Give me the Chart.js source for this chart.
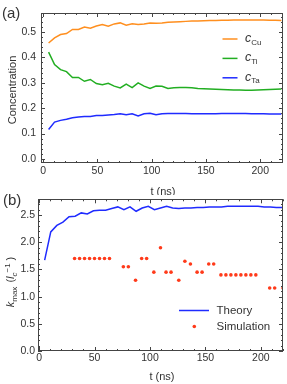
<!DOCTYPE html>
<html>
<head>
<meta charset="utf-8">
<script src="https://cdn.jsdelivr.net/npm/chart.js@4.4.0/dist/chart.umd.min.js"></script>
<style>
html, body { margin: 0; padding: 0; background: #fff; }
#wrap { position: relative; width: 287px; height: 384px; overflow: hidden; }
#top { position: absolute; left: 0; top: 0; }
#bot { position: absolute; left: 0; top: 190px; }
</style>
</head>
<body>
<div id="wrap">
  <canvas id="top" width="287" height="195"></canvas>
  <canvas id="bot" width="287" height="194"></canvas>
</div>
<script>
// time axis (ns) shared by the curves
const times = [5, 10.5, 16, 21.5, 27, 32.5, 38, 43.5, 49, 54.5, 60, 65.5, 71, 76.5, 82, 87.5, 93, 98.5, 104, 109.5,
  115, 120.5, 126, 131.5, 137, 142.5, 148, 153.5, 159, 164.5, 170, 175.5, 181, 186.5, 192, 197.5, 203, 208.5, 214, 219.5];

// panel (a): concentrations
const cCu = [0.457, 0.477, 0.490, 0.494, 0.510, 0.510, 0.520, 0.515, 0.524, 0.530, 0.523, 0.532, 0.536, 0.527, 0.533,
  0.530, 0.532, 0.536, 0.535, 0.536, 0.539, 0.540, 0.541, 0.542, 0.543, 0.543, 0.544, 0.545, 0.545, 0.546, 0.546,
  0.547, 0.547, 0.547, 0.547, 0.547, 0.547, 0.546, 0.546, 0.545];
const cTi = [0.421, 0.372, 0.352, 0.344, 0.321, 0.321, 0.306, 0.313, 0.297, 0.292, 0.298, 0.287, 0.280, 0.295, 0.281,
  0.300, 0.287, 0.278, 0.287, 0.286, 0.278, 0.280, 0.281, 0.281, 0.280, 0.278, 0.277, 0.276, 0.275, 0.274, 0.273,
  0.272, 0.272, 0.271, 0.271, 0.272, 0.273, 0.274, 0.275, 0.276];
const cTa = [0.116, 0.145, 0.152, 0.156, 0.162, 0.165, 0.167, 0.167, 0.171, 0.171, 0.173, 0.175, 0.178, 0.174, 0.178,
  0.169, 0.178, 0.180, 0.174, 0.178, 0.179, 0.179, 0.179, 0.179, 0.178, 0.178, 0.178, 0.178, 0.178, 0.179, 0.179,
  0.179, 0.179, 0.179, 0.178, 0.178, 0.178, 0.177, 0.177, 0.177];

// panel (b): k_max
const theory = [1.67, 2.19, 2.31, 2.37, 2.47, 2.48, 2.54, 2.52, 2.58, 2.59, 2.59, 2.62, 2.65, 2.60, 2.65, 2.57, 2.63,
  2.66, 2.60, 2.63, 2.66, 2.63, 2.62, 2.63, 2.63, 2.64, 2.64, 2.65, 2.65, 2.65, 2.66, 2.66, 2.66, 2.66, 2.66, 2.66,
  2.65, 2.65, 2.64, 2.64];
const simTimes = [32, 36.5, 41, 45.5, 50, 54.5, 59, 63.5, 76, 80.5, 87, 92.5, 97, 103.5, 109.5, 114.5, 119, 126,
  131.5, 136.5, 142.5, 147, 153, 157.5, 164, 168.5, 173, 177.5, 182, 186.5, 191, 195.5, 208, 212.5, 220];
const simK = [1.7, 1.7, 1.7, 1.7, 1.7, 1.7, 1.7, 1.7, 1.55, 1.55, 1.3, 1.7, 1.7, 1.45, 1.9, 1.45, 1.45, 1.3,
  1.65, 1.6, 1.45, 1.45, 1.6, 1.6, 1.4, 1.4, 1.4, 1.4, 1.4, 1.4, 1.4, 1.4, 1.16, 1.16, 1.16];

const xTicks = [0, 50, 100, 150, 200];

const FONT = "'Liberation Sans', Arial, sans-serif";
const TXT = '#333';
const ORANGE = '#ff8f1f', GREEN = '#22ae22', BLUE = '#1f2bff', RED = '#ff3a1a';

Chart.defaults.font.family = FONT;
Chart.defaults.color = TXT;

const pts = (xs, ys) => xs.map((x, i) => ({ x: x, y: ys[i] }));

// Mathematica-like frame with inward ticks on all four sides
function frameTicks(ctx, area, scale, major, minor, horizontal) {
  const n = Math.round(major / minor);
  const k0 = Math.ceil(scale.min / minor - 1e-9), k1 = Math.floor(scale.max / minor + 1e-9);
  for (let k = k0; k <= k1; k++) {
    const len = k % n === 0 ? 4 : 2;
    const p = Math.round(scale.getPixelForValue(k * minor)) + 0.5;
    ctx.beginPath();
    if (horizontal) {
      ctx.moveTo(p, area.bottom); ctx.lineTo(p, area.bottom - len);
      ctx.moveTo(p, area.top); ctx.lineTo(p, area.top + len);
    } else {
      ctx.moveTo(area.left, p); ctx.lineTo(area.left + len, p);
      ctx.moveTo(area.right, p); ctx.lineTo(area.right - len, p);
    }
    ctx.stroke();
  }
}

function rich(ctx, parts, x, y) {
  let cx = x;
  parts.forEach(p => {
    ctx.font = p.f;
    ctx.fillText(p.t, cx, y + (p.dy || 0));
    cx += ctx.measureText(p.t).width + (p.sp || 0);
  });
  return cx - x;
}

const framePlugin = {
  id: 'frame',
  afterDraw(chart, args, o) {
    const ctx = chart.ctx, a = chart.chartArea;
    ctx.save();
    ctx.strokeStyle = '#444';
    ctx.lineWidth = 1;
    ctx.strokeRect(Math.round(a.left) + 0.5, Math.round(a.top) + 0.5,
      Math.round(a.right - a.left) - 1, Math.round(a.bottom - a.top) - 1);
    frameTicks(ctx, a, chart.scales.x, 50, 10, true);
    frameTicks(ctx, a, chart.scales.y, o.yMajor, o.yMinor, false);
    ctx.fillStyle = TXT;
    ctx.textBaseline = 'alphabetic';
    // panel label
    ctx.font = '15px ' + FONT;
    ctx.fillText(o.panel, o.panelX, o.panelY);
    // x title
    ctx.font = '11px ' + FONT;
    ctx.textAlign = 'center';
    ctx.fillText('t (ns)', o.xTitleX, o.xTitleY);
    ctx.textAlign = 'left';
    // y title
    ctx.save();
    ctx.translate(o.yTitleX, o.yTitleY);
    ctx.rotate(-Math.PI / 2);
    if (o.yTitle) {
      ctx.font = '11px ' + FONT;
      ctx.textAlign = 'center';
      ctx.fillText(o.yTitle, 0, 4);
    } else {
      const parts = [
        { t: 'k', f: 'italic 11px ' + FONT },
        { t: 'max', f: '8px ' + FONT, dy: 2.5, sp: 1 },
        { t: ' (', f: '11px ' + FONT },
        { t: 'l', f: 'italic 11px ' + FONT },
        { t: 'c', f: 'italic 8px ' + FONT, dy: 2.5 },
        { t: '\u22121', f: '8px ' + FONT, dy: -4, sp: 3 },
        { t: ')', f: '11px ' + FONT }
      ];
      ctx.globalAlpha = 0;
      const w = rich(ctx, parts, 0, 0);
      ctx.globalAlpha = 1;
      rich(ctx, parts, -w / 2, 4);
    }
    ctx.restore();
    ctx.restore();
  }
};

const legendA = {
  id: 'legendA',
  afterDraw(chart) {
    const ctx = chart.ctx;
    ctx.save();
    chart.data.datasets.forEach((ds, i) => {
      const y = 39 + i * 19.4;
      ctx.strokeStyle = ds.borderColor;
      ctx.lineWidth = 1.5;
      ctx.beginPath(); ctx.moveTo(222.5, y); ctx.lineTo(237.5, y); ctx.stroke();
      ctx.fillStyle = TXT;
      rich(ctx, [
        { t: 'c', f: 'italic 12.5px ' + FONT },
        { t: ds.label, f: '8px ' + FONT, dy: 2.5 }
      ], 245, y + 3);
    });
    ctx.restore();
  }
};

const legendB = {
  id: 'legendB',
  afterDraw(chart) {
    const ctx = chart.ctx;
    ctx.save();
    ctx.strokeStyle = BLUE;
    ctx.lineWidth = 1.5;
    ctx.beginPath(); ctx.moveTo(179, 120.5); ctx.lineTo(209, 120.5); ctx.stroke();
    ctx.fillStyle = RED;
    ctx.beginPath(); ctx.arc(194.3, 136.5, 1.8, 0, Math.PI * 2); ctx.fill();
    ctx.fillStyle = TXT;
    ctx.font = '11.5px ' + FONT;
    ctx.textBaseline = 'middle';
    ctx.fillText(chart.data.datasets[0].label, 216.5, 120.5);
    ctx.fillText(chart.data.datasets[1].label, 216.5, 136.5);
    ctx.restore();
  }
};

function xScale(min, max, h, pad) {
  return {
    type: 'linear', min: min, max: max,
    afterFit: s => { s.height = h; },
    grid: { display: false, drawTicks: false },
    border: { display: false },
    ticks: {
      includeBounds: false, stepSize: 50, padding: pad, maxRotation: 0, autoSkip: false,
      font: { size: 10.5 }, color: TXT,
      callback: v => xTicks.includes(v) ? String(v) : ''
    }
  };
}

function yScale(min, max, step, w, pad) {
  return {
    type: 'linear', min: min, max: max,
    afterFit: s => { s.width = w; },
    grid: { display: false, drawTicks: false },
    border: { display: false },
    ticks: {
      includeBounds: false, stepSize: step, padding: pad, autoSkip: false,
      font: { size: 10.5 }, color: TXT,
      callback: v => Number(v).toFixed(1)
    }
  };
}

const lineDs = (label, data, color) => ({
  label: label, data: pts(times, data), borderColor: color, backgroundColor: color,
  borderWidth: 1.5, pointRadius: 0, tension: 0, fill: false
});

new Chart(document.getElementById('top'), {
  type: 'line',
  data: {
    datasets: [
      lineDs('Cu', cCu, ORANGE),
      lineDs('Ti', cTi, GREEN),
      lineDs('Ta', cTa, BLUE)
    ]
  },
  options: {
    responsive: false, animation: false, devicePixelRatio: 1,
    layout: { padding: { left: 0, top: 13, right: 4, bottom: 0 } },
    scales: {
      x: xScale(-2, 221, 32, 2),
      y: yScale(-0.016, 0.575, 0.1, 41, 5)
    },
    plugins: {
      legend: { display: false }, tooltip: { enabled: false },
      frame: { yMajor: 0.1, yMinor: 0.02, panel: '(a)', panelX: 2, panelY: 18,
        xTitleX: 163, xTitleY: 195, yTitleX: 12, yTitleY: 90, yTitle: 'Concentration' }
    }
  },
  plugins: [framePlugin, legendA]
});

new Chart(document.getElementById('bot'), {
  type: 'line',
  data: {
    datasets: [
      { label: 'Theory', data: pts(times, theory), borderColor: BLUE, borderWidth: 1.5,
        pointRadius: 0, tension: 0, fill: false },
      { label: 'Simulation', data: pts(simTimes, simK), showLine: false, pointRadius: 1.8,
        pointBorderWidth: 0, pointBackgroundColor: RED, borderColor: RED, clip: 0 }
    ]
  },
  options: {
    responsive: false, animation: false, devicePixelRatio: 1,
    layout: { padding: { left: 0, top: 9, right: 3, bottom: 0 } },
    scales: {
      x: xScale(-1, 220, 33, 1),
      y: yScale(0, 2.79, 0.5, 38, 3)
    },
    plugins: {
      legend: { display: false }, tooltip: { enabled: false },
      frame: { yMajor: 0.5, yMinor: 0.1, panel: '(b)', panelX: 3, panelY: 15,
        xTitleX: 162, xTitleY: 190, yTitleX: 10, yTitleY: 92 }
    }
  },
  plugins: [framePlugin, legendB]
});
</script>
</body>
</html>
